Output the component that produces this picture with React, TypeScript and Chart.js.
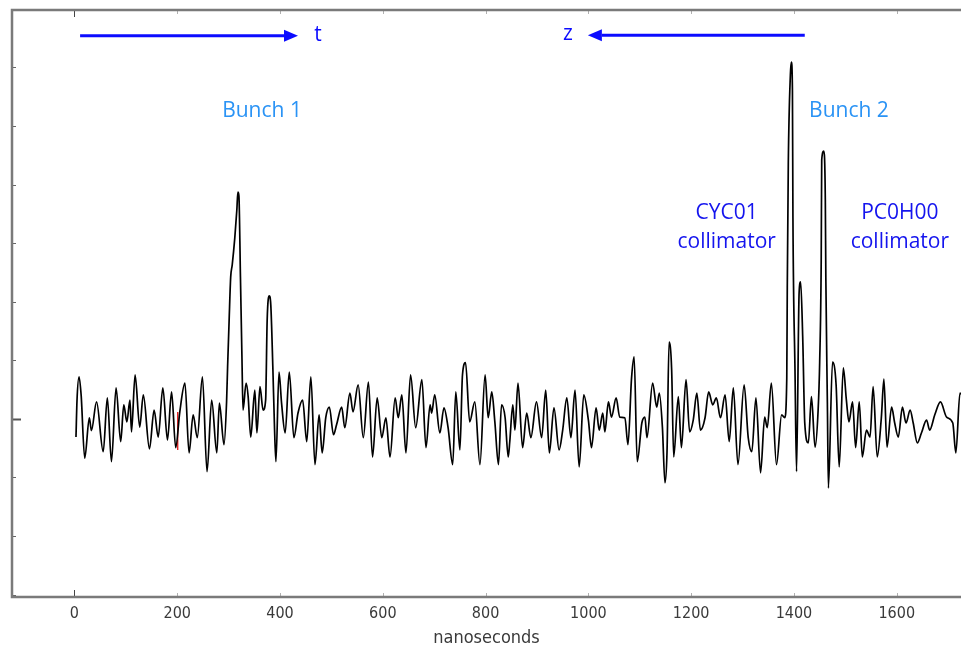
import React, { useEffect, useRef } from "react";
import { Chart, registerables } from "chart.js";

Chart.register(...registerables);

// ---- data ----
const timeNs = [
  3, 5, 9, 13, 20, 29, 33, 43, 56, 64,
  72, 81, 90, 96, 102, 108, 111, 118, 127, 134,
  146, 155, 163, 172, 181, 189, 197, 205, 215, 223,
  231, 239, 249, 258, 267, 277, 282, 291, 296, 298,
  301, 304, 307, 312, 316, 318, 320, 323, 326, 328,
  334, 338, 343, 351, 355, 361, 367, 372, 375, 379,
  382, 386, 389, 392, 398, 403, 410, 418, 427, 435,
  444, 452, 460, 468, 476, 482, 489, 496, 504, 510,
  520, 526, 536, 542, 552, 562, 572, 580, 589, 598,
  606, 614, 624, 630, 637, 645, 654, 664, 676, 684,
  692, 695, 701, 711, 719, 727, 736, 742, 750, 755,
  761, 769, 779, 789, 799, 805, 812, 818, 825, 831,
  838, 844, 847, 853, 857, 863, 872, 880, 888, 899,
  909, 917, 924, 933, 943, 950, 958, 966, 974, 982,
  991, 1000, 1006, 1015, 1021, 1028, 1032, 1039, 1045, 1054,
  1061, 1071, 1077, 1084, 1089, 1095, 1104, 1110, 1114, 1125,
  1133, 1138, 1144, 1149, 1153, 1157, 1162, 1166, 1175, 1181,
  1190, 1197, 1204, 1211, 1218, 1227, 1234, 1242, 1249, 1257,
  1266, 1274, 1282, 1291, 1303, 1311, 1318, 1326, 1335, 1343,
  1348, 1356, 1366, 1376, 1382, 1386, 1387, 1389, 1393, 1395,
  1397, 1398, 1402, 1405, 1410, 1413, 1417, 1421, 1428, 1434,
  1441, 1447, 1450, 1453, 1454, 1458, 1461, 1462, 1465, 1467,
  1475, 1482, 1488, 1496, 1502, 1507, 1514, 1520, 1527, 1533,
  1541, 1548, 1554, 1562, 1570, 1575, 1581, 1590, 1596, 1603,
  1611, 1618, 1626, 1632, 1640, 1648, 1658, 1664, 1674, 1685,
  1697, 1709, 1715, 1723, 1735,
];

const signal = [
  -0.31, 0.32, 0.72, 0.41, -0.67, 0.02, -0.2, 0.29, -0.56, 0.36,
  -0.73, 0.53, -0.39, 0.24, -0.05, 0.32, -0.22, 0.75, -0.14, 0.41,
  -0.51, 0.15, -0.31, 0.53, -0.36, 0.46, -0.49, 0.12, 0.61, -0.58,
  0.07, -0.32, 0.72, -0.9, 0.32, -0.58, 0.27, -0.44, 0.29, 0.89,
  1.69, 2.42, 2.63, 3.09, 3.57, 3.87, 3.81, 2.42, 1.01, 0.15,
  0.61, 0.38, -0.31, 0.49, -0.24, 0.55, 0.15, 0.32, 1.69, 2.1,
  1.95, 0.89, -0.07, -0.73, 0.8, 0.27, -0.24, 0.8, -0.32, 0.1,
  0.32, -0.39, 0.72, -0.78, 0.07, -0.58, 0.02, 0.2, -0.27, -0.1,
  0.2, -0.15, 0.44, 0.12, 0.58, -0.32, 0.63, -0.65, 0.36, -0.32,
  0.02, -0.65, 0.36, 0.02, 0.41, -0.58, 0.75, -0.15, 0.67, -0.49,
  0.24, 0.1, 0.41, -0.24, 0.19, -0.15, -0.78, 0.46, -0.53, 0.75,
  0.96, -0.05, 0.29, -0.78, 0.75, 0.02, 0.46, -0.05, -0.78, 0.24,
  0.02, -0.65, -0.39, 0.24, -0.19, 0.61, -0.49, 0.1, -0.32, 0.29,
  -0.32, 0.49, -0.58, 0.19, -0.53, -0.19, 0.36, -0.32, 0.49, -0.82,
  0.41, -0.02, -0.49, 0.19, -0.19, 0.1, -0.22, 0.29, 0.03, 0.36,
  0.03, 0.02, -0.44, 0.7, 1.06, -0.73, -0.07, 0.03, -0.32, 0.61,
  0.2, 0.44, -0.14, -1.09, -0.56, 1.31, 0.84, -0.65, 0.38, -0.49,
  0.67, -0.22, -0.02, 0.44, -0.19, 0.02, 0.46, 0.24, 0.36, 0.02,
  0.41, -0.39, 0.53, -0.78, 0.58, -0.32, -0.56, 0.36, -0.92, 0.03,
  -0.15, 0.61, -0.78, 0.07, 0.02, 0.7, 2.25, 4.37, 5.87, 6.09,
  5.61, 3.43, 0.84, -0.9, 2.15, 2.34, 1.4, -0.07, -0.41, 0.38,
  -0.48, 0.15, 0.96, 2.71, 4.42, 4.57, 3.74, 2.42, 0.27, -1.18,
  0.97, 0.58, -0.82, 0.87, 0.32, -0.05, 0.29, -0.49, 0.29, -0.65,
  -0.19, -0.31, 0.55, -0.65, 0.02, 0.68, -0.48, 0.2, -0.07, -0.31,
  0.2, -0.07, 0.15, -0.07, -0.41, -0.24, -0.02, -0.19, 0.07, 0.29,
  0.03, -0.07, -0.58, 0.44, 0.3,
];

// small red cursor segment on the trace
const markerTimeNs = [201, 201];
const markerSignal = [0.12, -0.53];

const xTickValues = [0, 200, 400, 600, 800, 1000, 1200, 1400, 1600];
const yTickValues = [-3, -2, -1, 0, 1, 2, 3, 4, 5, 6];
const xTitle = "nanoseconds";

const arrowNotes = [
  { from: 11, to: 435, y: 6.54, label: "t", labelX: 474 },
  { from: 1421, to: 999, y: 6.55, label: "z", labelX: 960 },
];
const textNotes = [
  { lines: ["Bunch 1"], x: 365, y: 5.26, color: "#2a93f5" },
  { lines: ["Bunch 2"], x: 1507, y: 5.26, color: "#2a93f5" },
  { lines: ["CYC01", "collimator"], x: 1269, y: 3.52, color: "#1414ee" },
  { lines: ["PC0H00", "collimator"], x: 1606, y: 3.52, color: "#1414ee" },
];

const tickFont = '"Liberation Sans Narrow", "DejaVu Sans Condensed", "Liberation Sans", sans-serif';
const noteFont = '"Open Sans", "Noto Sans", sans-serif';

const decorPlugin = {
  id: "decor",
  afterDatasetsDraw(chart: any) {
    const { ctx, chartArea: a, scales } = chart;
    const x = scales.x;
    const y = scales.y;
    ctx.save();

    // inward tick marks
    ctx.lineWidth = 1;
    for (const v of xTickValues) {
      const px = Math.round(x.getPixelForValue(v)) + 0.5;
      const major = v === 0;
      ctx.strokeStyle = major ? "#444" : "#b0b0b0";
      const len = major ? 7 : 4;
      ctx.beginPath();
      ctx.moveTo(px, a.bottom);
      ctx.lineTo(px, a.bottom - len);
      ctx.moveTo(px, a.top);
      ctx.lineTo(px, a.top + len);
      ctx.stroke();
    }
    for (const v of yTickValues) {
      const py = Math.round(y.getPixelForValue(v)) + 0.5;
      const major = v === 0;
      ctx.strokeStyle = major ? "#555" : "#666";
      ctx.lineWidth = major ? 2 : 1;
      const len = major ? 9 : 4;
      ctx.beginPath();
      ctx.moveTo(a.left, py);
      ctx.lineTo(a.left + len, py);
      ctx.stroke();
    }

    // frame (left, bottom, top)
    ctx.strokeStyle = "#7a7a7a";
    ctx.lineWidth = 2.5;
    ctx.beginPath();
    ctx.moveTo(a.right + 2, a.top);
    ctx.lineTo(a.left, a.top);
    ctx.lineTo(a.left, a.bottom);
    ctx.lineTo(a.right + 2, a.bottom);
    ctx.stroke();

    // arrows
    for (const n of arrowNotes) {
      const x1 = x.getPixelForValue(n.from);
      const x2 = x.getPixelForValue(n.to);
      const py = y.getPixelForValue(n.y);
      const dir = Math.sign(x2 - x1);
      const head = 14;
      ctx.strokeStyle = "#0c0cff";
      ctx.fillStyle = "#0c0cff";
      ctx.lineWidth = 3;
      ctx.beginPath();
      ctx.moveTo(x1, py);
      ctx.lineTo(x2 - dir * head, py);
      ctx.stroke();
      ctx.beginPath();
      ctx.moveTo(x2, py);
      ctx.lineTo(x2 - dir * head, py - 6);
      ctx.lineTo(x2 - dir * head, py + 6);
      ctx.closePath();
      ctx.fill();
      ctx.font = `21px ${noteFont}`;
      ctx.textAlign = "center";
      ctx.textBaseline = "middle";
      ctx.fillText(n.label, x.getPixelForValue(n.labelX), py - 1);
    }

    // text notes
    ctx.font = `21px ${noteFont}`;
    ctx.textAlign = "center";
    ctx.textBaseline = "middle";
    for (const n of textNotes) {
      ctx.fillStyle = n.color;
      const px = x.getPixelForValue(n.x);
      const py = y.getPixelForValue(n.y);
      n.lines.forEach((line, i) => ctx.fillText(line, px, py + i * 29));
    }
    ctx.restore();
  },
};

export default function App() {
  const ref = useRef<HTMLCanvasElement | null>(null);
  useEffect(() => {
    document.body.style.margin = "0";
    const canvas = ref.current;
    if (!canvas) return;
    const chart = new Chart(canvas, {
      type: "line",
      data: {
        datasets: [
          {
            data: timeNs.map((t, i) => ({ x: t, y: signal[i] })),
            borderColor: "#000000",
            borderWidth: 1.7,
            pointRadius: 0,
            cubicInterpolationMode: "monotone",
          },
          {
            data: markerTimeNs.map((t, i) => ({ x: t, y: markerSignal[i] })),
            borderColor: "#e00000",
            borderWidth: 1.2,
            pointRadius: 0,
          },
        ],
      },
      options: {
        animation: false,
        responsive: false,
        devicePixelRatio: 1,
        layout: { padding: { top: 10, left: 0, right: 0, bottom: 0 } },
        plugins: { legend: { display: false }, tooltip: { enabled: false } },
        scales: {
          x: {
            type: "linear",
            min: -121.5,
            max: 1725,
            afterBuildTicks: (s: any) => {
              s.ticks = xTickValues.map((v) => ({ value: v }));
            },
            afterFit: (s: any) => {
              s.height = 53;
            },
            grid: { display: false, drawTicks: false },
            border: { display: false },
            ticks: {
              color: "#3a3a3a",
              padding: 7,
              maxRotation: 0,
              autoSkip: false,
              font: { family: tickFont, size: 16 },
              callback: (v: any) => String(v),
            },
            title: {
              display: true,
              text: xTitle,
              color: "#3a3a3a",
              font: { family: tickFont, size: 18 },
              padding: { top: 0, bottom: 1 },
            },
          },
          y: {
            type: "linear",
            min: -3.04,
            max: 6.98,
            afterBuildTicks: (s: any) => {
              s.ticks = yTickValues.map((v) => ({ value: v }));
            },
            afterFit: (s: any) => {
              s.width = 12;
            },
            grid: { display: false, drawTicks: false },
            border: { display: false },
            ticks: { display: false },
          },
        },
      },
      plugins: [decorPlugin],
    });
    return () => chart.destroy();
  }, []);
  return (
    <div style={{ width: 961, height: 650, background: "#fff" }}>
      <canvas ref={ref} width={961} height={650} style={{ display: "block" }} />
    </div>
  );
}
